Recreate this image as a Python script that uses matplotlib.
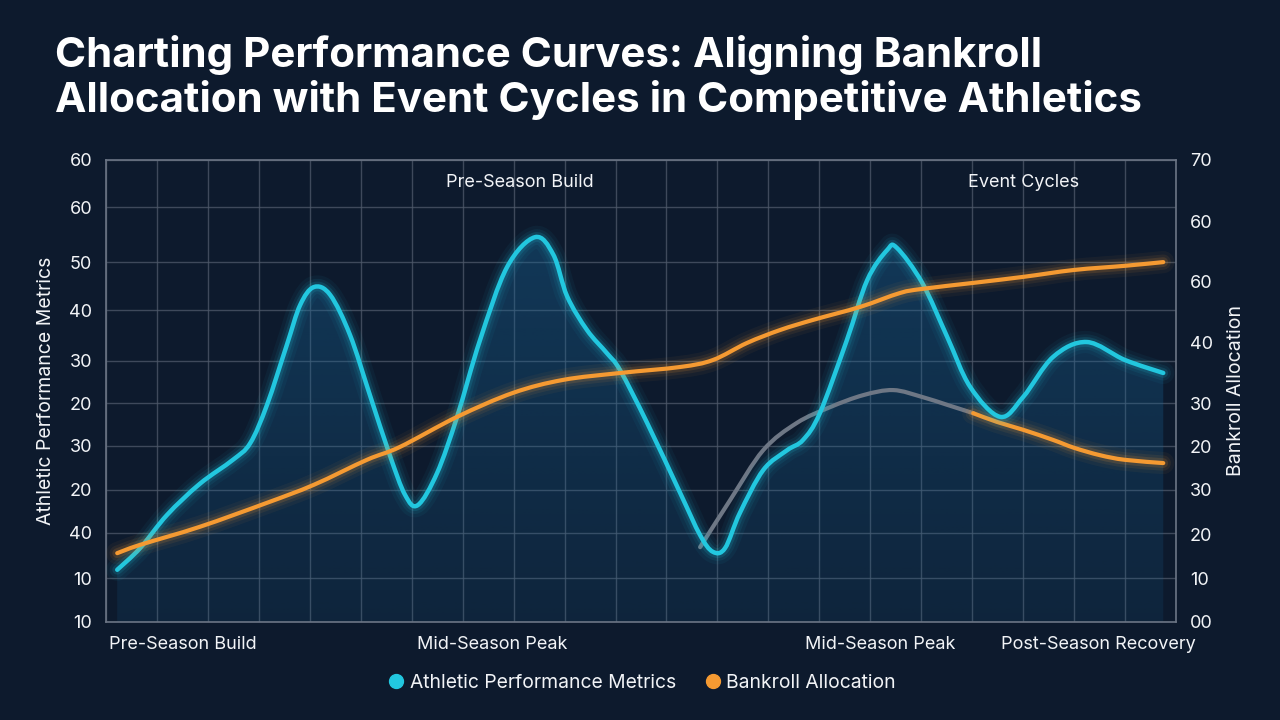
import numpy as np
import matplotlib.pyplot as plt
from matplotlib.lines import Line2D
from matplotlib.path import Path
from matplotlib.patches import PathPatch

plt.rcParams['font.family'] = ['Inter', 'DejaVu Sans']

# ---- data (x in grid columns, y in left-axis rows) ----
title_lines = ["Charting Performance Curves: Aligning Bankroll",
               "Allocation with Event Cycles in Competitive Athletics"]

left_tick_labels = ['10', '10', '40', '20', '30', '20', '30', '40', '50', '60', '60']
left_tick_pos = [0, 0.95, 1.93, 2.86, 3.81, 4.74, 5.65, 6.75, 7.79, 8.98, 10]
right_tick_labels = ['00', '10', '20', '30', '20', '30', '40', '60', '60', '70']
right_tick_pos = [0, 0.95, 1.90, 2.86, 3.79, 4.74, 6.06, 7.36, 8.66, 10]

x_labels = ["Pre-Season Build", "Mid-Season Peak", "Mid-Season Peak", "Post-Season Recovery"]
x_label_pos = [1.51, 7.58, 15.19, 19.47]

phase_labels = ["Pre-Season Build", "Event Cycles"]
phase_x = [8.13, 18.0]

perf_x = [0.22, 0.67, 1.20, 1.84, 2.49, 2.83, 3.16, 3.55, 3.81, 4.08, 4.40, 4.79,
          5.18, 5.57, 5.87, 6.12, 6.50, 6.89, 7.34, 7.87, 8.42, 8.78, 9.05, 9.44,
          9.83, 10.09, 10.62, 11.27, 11.66, 11.91, 12.15, 12.44, 12.90, 13.37,
          13.68, 14.01, 14.54, 14.94, 15.33, 15.52, 16.02, 16.51, 16.96, 17.55,
          18.00, 18.59, 19.25, 20.00, 20.75]
perf_y = [1.13, 1.60, 2.32, 2.99, 3.51, 3.87, 4.70, 6.00, 6.86, 7.25, 7.08, 6.21,
          4.91, 3.61, 2.75, 2.53, 3.23, 4.44, 6.10, 7.68, 8.33, 7.95, 7.05, 6.32,
          5.82, 5.45, 4.31, 2.79, 1.88, 1.52, 1.60, 2.36, 3.29, 3.72,
          3.94, 4.52, 6.10, 7.40, 8.05, 8.10, 7.34, 6.17, 5.09, 4.44,
          4.87, 5.74, 6.06, 5.67, 5.39]

bank_x = [0.22, 0.67, 1.84, 3.16, 4.08, 5.12, 5.77, 6.89, 7.99, 8.97, 10.09,
          11.27, 11.91, 12.58, 13.23, 13.88, 14.80, 15.58, 16.02, 17.02, 18.00,
          19.00, 20.00, 20.75]
bank_y = [1.49, 1.67, 2.06, 2.58, 2.97, 3.51, 3.79, 4.44, 4.96, 5.24, 5.39,
          5.52, 5.67, 6.04, 6.32, 6.54, 6.82, 7.12, 7.21, 7.34, 7.47,
          7.62, 7.71, 7.79]

ghost_x = [11.66, 12.25, 12.90, 13.56, 14.21, 14.86, 15.45, 16.02, 16.51, 17.02]
ghost_y = [1.62, 2.64, 3.72, 4.31, 4.65, 4.91, 5.02, 4.87, 4.70, 4.52]

bank2_x = [17.02, 17.49, 18.00, 18.59, 19.00, 19.51, 20.00, 20.75]
bank2_y = [4.52, 4.33, 4.16, 3.94, 3.77, 3.61, 3.51, 3.44]

BG = '#0d1a2d'
CYAN = '#22c7df'
ORANGE = '#f59a32'
GRID = '#4f5a6b'
TXT = '#f2f4f7'


def smooth_path(xs, ys, close_bottom=False):
    # Catmull-Rom through the read points, drawn as cubic bezier segments
    pts = np.column_stack([xs, ys])
    n = len(pts)
    verts = [pts[0]]
    codes = [Path.MOVETO]
    for i in range(n - 1):
        p0 = pts[max(i - 1, 0)]
        p1 = pts[i]
        p2 = pts[i + 1]
        p3 = pts[min(i + 2, n - 1)]
        verts += [p1 + (p2 - p0) / 6, p2 - (p3 - p1) / 6, p2]
        codes += [Path.CURVE4] * 3
    if close_bottom:
        verts += [(xs[-1], 0), (xs[0], 0), pts[0]]
        codes += [Path.LINETO, Path.LINETO, Path.CLOSEPOLY]
    return Path(verts, codes)


fig = plt.figure(figsize=(12.8, 7.2), dpi=100, facecolor=BG)
ax = fig.add_axes([106 / 1280, 98 / 720, 1070 / 1280, 462 / 720])
ax.set_facecolor(BG)
ax.set_xlim(0, 21)
ax.set_ylim(0, 10)

# grid
for gx in range(22):
    ax.axvline(gx, color=GRID, lw=1.0, alpha=0.75, zorder=1)
for gy in left_tick_pos:
    ax.axhline(gy, color=GRID, lw=1.0, alpha=0.75, zorder=1)

# gradient fill under the performance curve
grad = np.zeros((200, 2, 4))
grad[..., :3] = np.array([0.10, 0.40, 0.60])
grad[..., 3] = np.linspace(0.45, 0.14, 200)[:, None]
im = ax.imshow(grad, extent=[0, 21, 0, 10], aspect='auto', zorder=2, origin='upper')
clip = PathPatch(smooth_path(perf_x, perf_y, close_bottom=True), transform=ax.transData,
                 facecolor='none', edgecolor='none')
ax.add_patch(clip)
im.set_clip_path(clip)


def glow_line(xs, ys, color, lw, z, glow=True):
    path = smooth_path(xs, ys)
    if glow:
        for w, a in [(16, 0.05), (11, 0.08), (7, 0.14)]:
            ax.add_patch(PathPatch(path, facecolor='none', edgecolor=color, lw=w,
                                   alpha=a, capstyle='round', joinstyle='round', zorder=z))
    ax.add_patch(PathPatch(path, facecolor='none', edgecolor=color, lw=lw,
                           capstyle='round', joinstyle='round', zorder=z + 0.5))


glow_line(ghost_x, ghost_y, '#6e7785', 3.0, 3, glow=False)
glow_line(bank2_x, bank2_y, ORANGE, 3.0, 4)
glow_line(perf_x, perf_y, CYAN, 3.2, 5)
glow_line(bank_x, bank_y, ORANGE, 3.0, 6)

# axes styling
for s in ax.spines.values():
    s.set_color('#6b7585')
    s.set_linewidth(1.2)
ax.set_yticks(left_tick_pos)
ax.set_yticklabels(left_tick_labels)
ax.set_xticks([])
ax.tick_params(axis='y', length=0, pad=10, labelsize=13, labelcolor=TXT)
ax.set_ylabel("Athletic Performance Metrics", fontsize=14, color=TXT, labelpad=10)

ax2 = ax.twinx()
ax2.set_ylim(0, 10)
ax2.set_yticks(right_tick_pos)
ax2.set_yticklabels(right_tick_labels)
ax2.tick_params(axis='y', length=0, pad=10, labelsize=13, labelcolor=TXT)
ax2.set_ylabel("Bankroll Allocation", fontsize=14, color=TXT, labelpad=10)
for s in ax2.spines.values():
    s.set_visible(False)

for lab, xp in zip(x_labels, x_label_pos):
    ax.text(xp, -0.48, lab, ha='center', va='center', fontsize=13, color=TXT)

for lab, xp in zip(phase_labels, phase_x):
    ax.text(xp, 9.52, lab, ha='center', va='center', fontsize=13, color=TXT, zorder=7)

# title
fig.text(55 / 1280, 1 - 67 / 720, title_lines[0], fontsize=30.3, fontweight='bold',
         color='white', va='baseline', ha='left')
fig.text(55 / 1280, 1 - 112 / 720, title_lines[1], fontsize=30.3, fontweight='bold',
         color='white', va='baseline', ha='left')

# legend
handles = [Line2D([], [], marker='o', ls='none', color=CYAN, markersize=10),
           Line2D([], [], marker='o', ls='none', color=ORANGE, markersize=10)]
fig.legend(handles, ["Athletic Performance Metrics", "Bankroll Allocation"],
           loc='center', bbox_to_anchor=(642 / 1280, 1 - 683 / 720), ncol=2,
           frameon=False, fontsize=13.9, labelcolor=TXT, handletextpad=0.3,
           columnspacing=1.5, handlelength=0.8)

fig.savefig('out.png', dpi=100, facecolor=BG)
